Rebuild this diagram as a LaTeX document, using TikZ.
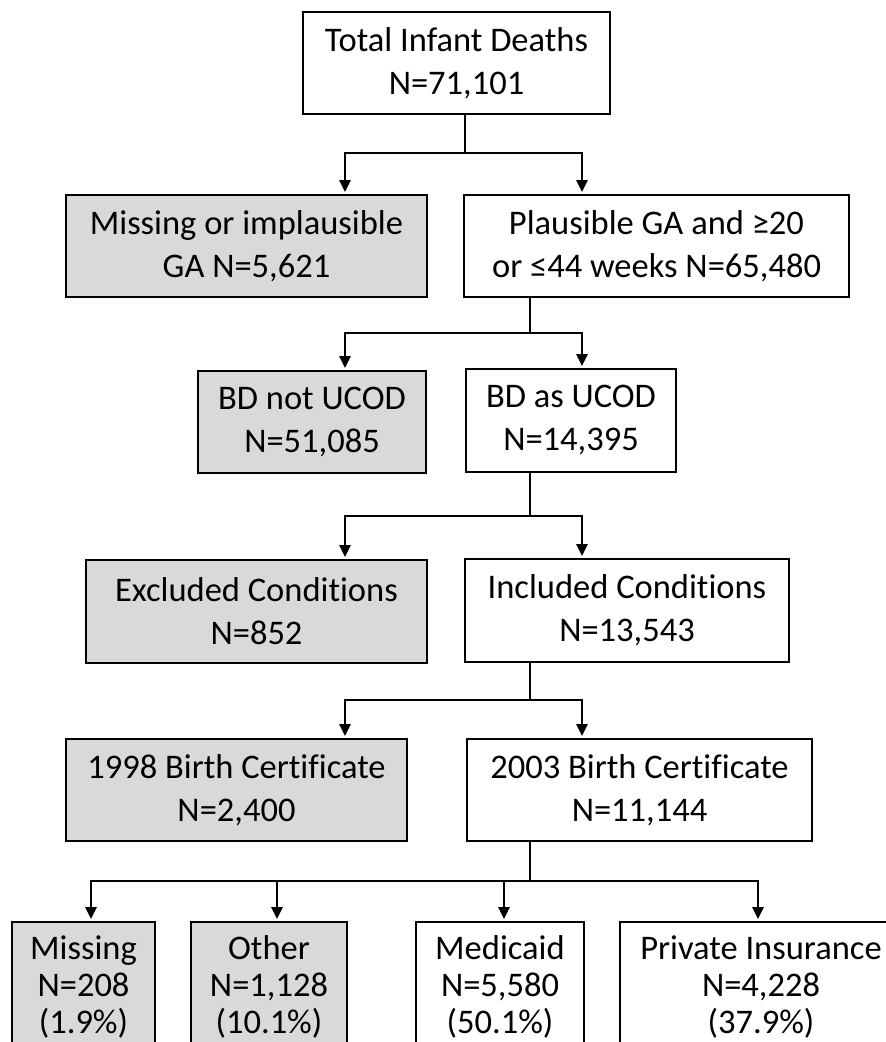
\documentclass[tikz,border=0pt]{standalone}
\usepackage{fontspec}
\setmainfont{Carlito}[Ligatures=NoCommon]
\usepackage{xcolor}
\usepackage{tikz}
\usetikzlibrary{positioning,arrows.meta}

\definecolor{outgray}{RGB}{217,217,217}

\begin{document}
\begin{tikzpicture}[x=1pt,y=-1pt,
				box/.style={
					draw, line width=1.8pt, align=center,
					inner sep=0pt,
					font=\fontsize{34.5}{43}\selectfont,
				},
				outbox/.style={box, fill=outgray},
				payer/.style={box, minimum height=130pt,
					font=\fontsize{34.5}{37}\selectfont},
				link/.style={line width=2.6pt},
				arr/.style={link, -{Triangle[length=12pt,width=11pt]}, shorten >=2pt},
				]
				\useasboundingbox (0,0) rectangle (886,1042);
				
				\node[box, minimum width=307pt, minimum height=102pt] (tot) at (456.5,63) {Total Infant Deaths\\N=71,101};
				
				\node[outbox, minimum width=361pt, minimum height=102pt] (gam) at (246.5,246) {Missing or implausible\\GA N=5,621};
				\node[box, minimum width=385pt, minimum height=102pt] (gap) at (656.5,246) {Plausible GA and ≥20\\or ≤44 weeks N=65,480};
				
				\node[outbox, minimum width=228pt, minimum height=102pt] (bdn) at (312,422) {BD not UCOD\\N=51,085};
				\node[box, minimum width=210pt, minimum height=103pt] (bda) at (571,420.5) {BD as UCOD\\N=14,395};
				
				\node[outbox, minimum width=341pt, minimum height=103pt] (exc) at (256.5,611.5) {Excluded Conditions\\N=852};
				\node[box, minimum width=324pt, minimum height=103pt] (inc) at (627,610.5) {Included Conditions\\N=13,543};
				
				\node[outbox, minimum width=341pt, minimum height=102pt] (bc98) at (236.5,790) {1998 Birth Certificate\\N=2,400};
				\node[box, minimum width=345pt, minimum height=102pt] (bc03) at (639.5,790) {2003 Birth Certificate\\N=11,144};
				
				% payer of the 2003 certificate deaths
				\node[payer, fill=outgray, minimum width=143pt] (mis) at (83.5,987) {Missing\\N=208\\(1.9\%)};
				\node[payer, fill=outgray, minimum width=156pt] (oth) at (269,987) {Other\\N=1,128\\(10.1\%)};
				\node[payer, minimum width=168pt] (med) at (500,987) {Medicaid\\N=5,580\\(50.1\%)};
				\node[payer, minimum width=282pt] (pri) at (761,987) {Private Insurance\\N=4,228\\(37.9\%)};
				
				\coordinate (j1) at (465,153);
				\coordinate (j2) at (530,333);
				\coordinate (j3) at (530,516);
				\coordinate (j4) at (530,700);
				\coordinate (j5) at (530,881);
				
				\draw[link] (tot.south -| j1) -- (j1);
				\draw[arr] (j1) -| (345,0 |- gam.north);
				\draw[arr] (j1) -| (582,0 |- gap.north);
				
				\draw[link] (gap.south -| j2) -- (j2);
				\draw[arr] (j2) -| (345,0 |- bdn.north);
				\draw[arr] (j2) -| (582,0 |- bda.north);
				
				\draw[link] (bda.south -| j3) -- (j3);
				\draw[arr] (j3) -| (345,0 |- exc.north);
				\draw[arr] (j3) -| (582,0 |- inc.north);
				
				\draw[link] (inc.south -| j4) -- (j4);
				\draw[arr] (j4) -| (345,0 |- bc98.north);
				\draw[arr] (j4) -| (582,0 |- bc03.north);
				
				\draw[link] (bc03.south -| j5) -- (j5);
				\draw[arr] (j5) -| (91,0 |- mis.north);
				\draw[arr] (j5) -| (277,0 |- oth.north);
				\draw[arr] (j5) -| (504,0 |- med.north);
				\draw[arr] (j5) -| (758,0 |- pri.north);
			\end{tikzpicture}
\end{document}
